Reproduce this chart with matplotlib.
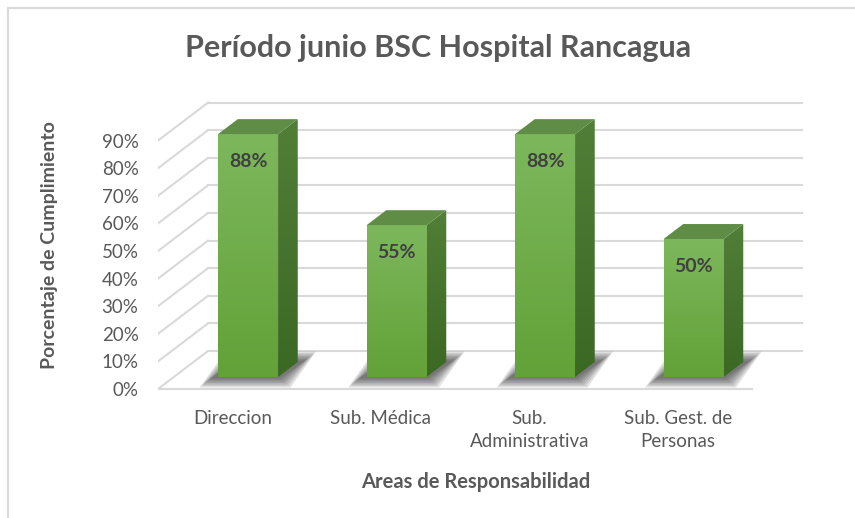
import numpy as np
import matplotlib
matplotlib.use("Agg")
import matplotlib.pyplot as plt
from matplotlib.patches import Polygon
from matplotlib.lines import Line2D

plt.rcParams["font.family"] = ["Lato", "DejaVu Sans"]

# datos
areas = ["Direccion", "Sub. Médica", "Sub.\nAdministrativa", "Sub. Gest. de\nPersonas"]
cumplimiento = [88, 55, 88, 50]
y_ticks = list(range(0, 100, 10))

TEXT = "#595959"
GRID = "#d9d9d9"

W, H = 855, 518
fig = plt.figure(figsize=(W / 100, H / 100), dpi=100)

# geometria en pixeles del plano frontal
px_left, px_x = 158, 148.5
px_zero, px_y = 389, 2.76
x0, x1 = -0.5, 3.9
y0, y1 = -5, 115
ax = fig.add_axes([px_left / W,
                   (H - (px_zero - y0 * px_y)) / H,
                   (x1 - x0) * px_x / W,
                   (y1 - y0) * px_y / H])

# profundidad (pseudo 3D)
DX, DY = 50 / px_x, 38 / px_y
f1, f2 = 0.316, 0.71
hw = 30 / px_x
n = len(areas)

# paredes: lateral y fondo
for v in y_ticks:
    ax.plot([-0.5, -0.5 + DX], [v, v + DY], color=GRID, lw=1.5, zorder=1)
    ax.plot([-0.5 + DX, n - 0.5 + DX], [v + DY, v + DY], color=GRID, lw=1.5, zorder=1)
ax.plot([-0.5, n - 0.5], [0, 0], color=GRID, lw=1.5, zorder=1)


def gradient(ax, verts, c_top, c_bot, z):
    poly = Polygon(verts, closed=True, facecolor="none", edgecolor="none")
    ax.add_patch(poly)
    xs = [p[0] for p in verts]
    ys = [p[1] for p in verts]
    t = np.linspace(0, 1, 64)[:, None]
    top = np.array(matplotlib.colors.to_rgb(c_top))
    bot = np.array(matplotlib.colors.to_rgb(c_bot))
    img = (top * (1 - t) + bot * t)[:, None, :]
    im = ax.imshow(img, extent=(min(xs), max(xs), min(ys), max(ys)),
                   aspect="auto", origin="upper", zorder=z, interpolation="bilinear")
    im.set_clip_path(poly)


bdx, bdy = (f2 - f1) * DX, (f2 - f1) * DY
for i, v in enumerate(cumplimiento):
    cx = i + f1 * DX
    xl, xr = cx - hw, cx + hw
    yb, yt = f1 * DY, v + f1 * DY
    # sombra
    for k in range(7, 0, -1):
        ex, ey = k * 0.012, k * 0.55
        sh = [(xl - ex - 0.04, yb - ey), (xr + ex, yb - ey),
              (xr + bdx + ex + 0.04, yb + bdy + ey), (xl + bdx - ex, yb + bdy + ey)]
        ax.add_patch(Polygon(sh, closed=True, facecolor="#1f1f1f",
                             edgecolor="none", alpha=0.12, zorder=2))
    # cara frontal
    gradient(ax, [(xl, yb), (xr, yb), (xr, yt), (xl, yt)], "#7db75c", "#62a238", 4)
    # cara lateral
    gradient(ax, [(xr, yb), (xr + bdx, yb + bdy), (xr + bdx, yt + bdy), (xr, yt)],
             "#517f38", "#3b6823", 4)
    # cara superior
    ax.add_patch(Polygon([(xl, yt), (xr, yt), (xr + bdx, yt + bdy), (xl + bdx, yt + bdy)],
                         closed=True, facecolor="#5f8d46", edgecolor="none", zorder=5))
    ax.text(cx, yt - 10, f"{v}%", ha="center", va="center", fontsize=14,
            fontweight="bold", color="#404040", zorder=6)

ax.set_xlim(x0, x1)
ax.set_ylim(y0, y1)
ax.set_yticks(y_ticks)
ax.set_yticklabels([f"{v}%" for v in y_ticks])
ax.set_xticks(range(n))
ax.set_xticklabels(areas, linespacing=1.45)
ax.tick_params(length=0, colors=TEXT, labelsize=13.5)
ax.tick_params(axis="y", pad=14)
ax.tick_params(axis="x", pad=5)
for s in ax.spines.values():
    s.set_visible(False)
ax.patch.set_visible(False)

fig.text(438 / W, 1 - 48 / H, "Período junio BSC Hospital Rancagua", ha="center",
         va="center", fontsize=22, fontweight="bold", color=TEXT)
fig.text(50 / W, 1 - 245 / H, "Porcentaje de Cumplimiento", ha="center", va="center",
         rotation=90, fontsize=14, fontweight="bold", color=TEXT)
fig.text(476 / W, 1 - 482 / H, "Areas de Responsabilidad", ha="center", va="center",
         fontsize=14.5, fontweight="bold", color=TEXT)

# marco del grafico
fig.add_artist(Line2D([7.5 / W, 7.5 / W], [0, 1 - 7.5 / H], color=GRID, lw=1.5))
fig.add_artist(Line2D([7.5 / W, 1], [1 - 7.5 / H, 1 - 7.5 / H], color=GRID, lw=1.5))

fig.savefig("out.png", dpi=100, facecolor="white")
